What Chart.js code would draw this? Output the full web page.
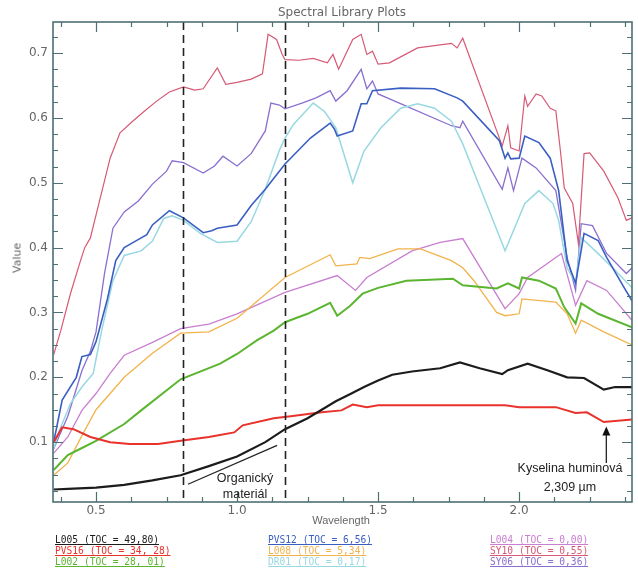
<!DOCTYPE html>
<html>
<head>
<meta charset="utf-8">
<title>Spectral Library Plots</title>
<script src="https://cdn.jsdelivr.net/npm/chart.js@4.4.1/dist/chart.umd.min.js"></script>
<style>
  html, body { margin: 0; padding: 0; background: #ffffff; }
  #wrap { position: relative; width: 638px; height: 572px; overflow: hidden; background: #ffffff; }
  #c { position: absolute; left: 0; top: 0; }
  .lbl { position: absolute; white-space: nowrap; transform: translate(-50%, -50%); }
  .axis-text { font-family: "DejaVu Sans", sans-serif; color: #666; }
  .note { font-family: "Liberation Sans", Arial, sans-serif; font-size: 12.5px; color: #222; }
  .legend-col { position: absolute; top: 534px; font-family: "DejaVu Sans Mono", monospace; font-size: 9.6px; line-height: 11px; }
  .legend-col div { text-decoration: underline; text-underline-offset: 1px; }
</style>
</head>
<body>
<div id="wrap">
  <canvas id="c" width="638" height="572"></canvas>
  <div class="lbl axis-text" style="left:342px; top:12px; font-size:12px;">Spectral Library Plots</div>
  <div class="lbl axis-text" style="left:17px; top:258px; font-size:11px; transform: translate(-50%, -50%) rotate(-90deg);">Value</div>
  <div class="lbl axis-text" style="left:341px; top:520px; font-size:11px; font-family: 'Liberation Sans', Arial, sans-serif;">Wavelength</div>
  <div class="lbl note" style="left:245px; top:478px;">Organický</div>
  <div class="lbl note" style="left:245px; top:494px;">materiál</div>
  <div class="lbl note" style="left:570px; top:468px;">Kyselina huminová</div>
  <div class="lbl note" style="left:570px; top:487px;">2,309 µm</div>
  <div id="legend"></div>
</div>
<script>
// Sample names, TOC contents and line colours (legend order)
const sampleNames = ['L005', 'PVS16', 'L002', 'PVS12', 'L008', 'DR01', 'L004', 'SY10', 'SY06'];
const tocLabels = ['49,80', '34, 28', '28, 01', '6,56', '5,34', '0,17', '0,00', '0,55', '0,36'];
const lineColors = ['#1c1c1c', '#e8322b', '#5cb531', '#3a5fc2', '#f2b24c', '#98d8e2', '#c87fd0', '#d65a76', '#8a6fd0'];
const lineWidths = [2.2, 2.0, 2.0, 1.6, 1.3, 1.5, 1.3, 1.2, 1.3];

// Reflectance spectra: wavelength (µm) and value
const wavelengthL005 = [0.35,0.4,0.5,0.6,0.7,0.8,0.9,1.0,1.1,1.17,1.25,1.3,1.35,1.4,1.45,1.5,1.55,1.62,1.72,1.79,1.86,1.94,1.96,2.03,2.1,2.17,2.23,2.3,2.34,2.4];
const valueL005 = [0.027,0.028,0.03,0.034,0.041,0.049,0.063,0.078,0.1,0.12,0.137,0.15,0.163,0.174,0.185,0.195,0.204,0.209,0.214,0.223,0.214,0.205,0.211,0.221,0.211,0.2,0.199,0.181,0.185,0.185];

const wavelengthPVS16 = [0.35,0.38,0.42,0.48,0.55,0.62,0.72,0.8,0.9,0.99,1.02,1.13,1.19,1.3,1.37,1.41,1.46,1.5,1.7,1.95,2.0,2.13,2.2,2.24,2.3,2.4];
const valuePVS16 = [0.1,0.123,0.12,0.108,0.1,0.097,0.097,0.102,0.108,0.115,0.126,0.137,0.14,0.146,0.149,0.158,0.154,0.157,0.157,0.157,0.154,0.154,0.145,0.146,0.131,0.135];

const wavelengthL002 = [0.35,0.4,0.45,0.5,0.6,0.66,0.8,0.94,1.0,1.07,1.13,1.17,1.2,1.25,1.33,1.355,1.4,1.445,1.5,1.6,1.765,1.8,1.92,1.96,2.0,2.01,2.07,2.13,2.16,2.2,2.22,2.28,2.4];
const valueL002 = [0.057,0.08,0.091,0.102,0.128,0.149,0.197,0.221,0.236,0.257,0.272,0.285,0.29,0.298,0.315,0.295,0.31,0.329,0.338,0.349,0.352,0.342,0.337,0.345,0.337,0.354,0.349,0.337,0.308,0.283,0.314,0.298,0.277];

const wavelengthPVS12 = [0.35,0.38,0.43,0.45,0.48,0.5,0.54,0.57,0.6,0.64,0.68,0.7,0.76,0.81,0.88,0.91,0.93,1.0,1.05,1.1,1.17,1.26,1.33,1.345,1.355,1.41,1.44,1.46,1.48,1.58,1.7,1.78,1.8,1.93,1.95,1.96,1.97,2.0,2.02,2.07,2.11,2.14,2.17,2.2,2.23,2.28,2.31,2.37,2.4];
const valuePVS12 = [0.1,0.165,0.2,0.232,0.235,0.255,0.32,0.38,0.4,0.41,0.42,0.435,0.457,0.446,0.423,0.426,0.43,0.435,0.465,0.49,0.529,0.569,0.592,0.583,0.572,0.58,0.622,0.622,0.642,0.646,0.645,0.631,0.626,0.565,0.538,0.546,0.537,0.538,0.572,0.562,0.538,0.488,0.38,0.345,0.422,0.411,0.385,0.34,0.318];

const wavelengthL008 = [0.35,0.4,0.45,0.5,0.6,0.7,0.8,0.9,1.0,1.17,1.33,1.35,1.425,1.435,1.47,1.57,1.65,1.76,1.8,1.84,1.92,1.95,2.0,2.01,2.13,2.17,2.2,2.22,2.3,2.4];
const valueL008 = [0.049,0.068,0.11,0.15,0.2,0.237,0.268,0.27,0.291,0.354,0.389,0.372,0.375,0.385,0.383,0.398,0.398,0.38,0.369,0.349,0.3,0.295,0.298,0.321,0.316,0.298,0.268,0.288,0.27,0.25];

const wavelengthDR01 = [0.35,0.37,0.41,0.45,0.49,0.52,0.56,0.6,0.66,0.7,0.74,0.77,0.81,0.87,0.93,1.0,1.05,1.1,1.15,1.17,1.2,1.27,1.31,1.35,1.41,1.45,1.51,1.58,1.64,1.7,1.76,1.8,1.87,1.95,2.02,2.07,2.12,2.14,2.17,2.2,2.22,2.27,2.34,2.4];
const valueDR01 = [0.09,0.118,0.16,0.185,0.206,0.272,0.349,0.388,0.395,0.41,0.445,0.449,0.442,0.422,0.408,0.41,0.44,0.49,0.55,0.569,0.59,0.623,0.61,0.585,0.5,0.549,0.585,0.615,0.622,0.615,0.595,0.56,0.483,0.395,0.468,0.488,0.468,0.442,0.369,0.345,0.415,0.395,0.365,0.338];

const wavelengthL004 = [0.35,0.4,0.45,0.5,0.55,0.6,0.7,0.8,0.9,1.0,1.17,1.355,1.42,1.46,1.62,1.72,1.8,1.95,2.0,2.03,2.15,2.2,2.24,2.31,2.4];
const valueL004 = [0.083,0.108,0.149,0.175,0.206,0.234,0.254,0.275,0.282,0.298,0.331,0.357,0.334,0.354,0.395,0.408,0.414,0.306,0.329,0.354,0.391,0.311,0.349,0.334,0.288];

const wavelengthSY10 = [0.35,0.375,0.41,0.445,0.46,0.48,0.51,0.55,0.585,0.63,0.67,0.715,0.76,0.81,0.85,0.88,0.93,0.96,1.0,1.05,1.09,1.11,1.14,1.16,1.17,1.22,1.27,1.32,1.34,1.36,1.41,1.44,1.46,1.48,1.5,1.54,1.64,1.76,1.78,1.8,1.94,1.96,1.97,2.0,2.02,2.03,2.06,2.08,2.11,2.13,2.145,2.16,2.19,2.21,2.23,2.25,2.3,2.35,2.38,2.4];
const valueSY10 = [0.235,0.272,0.33,0.38,0.4,0.415,0.468,0.538,0.577,0.595,0.61,0.626,0.64,0.648,0.643,0.645,0.677,0.652,0.655,0.66,0.668,0.729,0.721,0.698,0.69,0.689,0.692,0.685,0.698,0.675,0.721,0.729,0.698,0.703,0.683,0.685,0.708,0.715,0.708,0.723,0.557,0.588,0.554,0.549,0.634,0.618,0.637,0.634,0.615,0.611,0.554,0.492,0.468,0.406,0.545,0.546,0.518,0.477,0.442,0.446];

const wavelengthSY06 = [0.35,0.4,0.45,0.48,0.5,0.53,0.56,0.6,0.65,0.7,0.75,0.77,0.81,0.88,0.92,0.95,1.0,1.05,1.1,1.12,1.15,1.17,1.23,1.28,1.33,1.35,1.39,1.44,1.46,1.48,1.5,1.76,1.79,1.8,1.94,1.96,1.98,2.01,2.06,2.13,2.17,2.2,2.22,2.26,2.31,2.38,2.4];
const valueSY06 = [0.09,0.14,0.21,0.24,0.27,0.36,0.43,0.455,0.472,0.498,0.518,0.534,0.531,0.515,0.526,0.541,0.526,0.545,0.58,0.623,0.62,0.614,0.623,0.631,0.642,0.626,0.642,0.675,0.645,0.657,0.637,0.588,0.585,0.595,0.49,0.523,0.488,0.538,0.523,0.488,0.385,0.334,0.437,0.434,0.391,0.36,0.369];

const spectraWavelengths = [wavelengthL005, wavelengthPVS16, wavelengthL002, wavelengthPVS12, wavelengthL008, wavelengthDR01, wavelengthL004, wavelengthSY10, wavelengthSY06];
const spectraValues = [valueL005, valuePVS16, valueL002, valuePVS12, valueL008, valueDR01, valueL004, valueSY10, valueSY06];

// Axis ticks
const xTickLabels = [0.5, 1.0, 1.5, 2.0];
const yTickLabels = [0.1, 0.2, 0.3, 0.4, 0.5, 0.6, 0.7];

// Organic-matter band edges (µm) and humic acid feature
const organicBand = [0.81, 1.17];
const organicPointer = [[0.826, 0.035], [1.142, 0.095]];
const humicWavelength = 2.309;
const humicArrow = [0.068, 0.124];

const axisColor = '#4e7075';

const datasets = sampleNames.map((name, i) => ({
  label: name + ' (TOC = ' + tocLabels[i] + ')',
  data: spectraWavelengths[i].map((w, k) => ({ x: w, y: spectraValues[i][k] })),
  borderColor: lineColors[i],
  borderWidth: lineWidths[i],
  pointRadius: 0,
  tension: 0,
  fill: false
}));

// Frame with inward ticks, dashed band edges and annotation strokes
const frameAndMarks = {
  id: 'frameAndMarks',
  afterDatasetsDraw(chart) {
    const { ctx, chartArea: a, scales: { x, y } } = chart;
    ctx.save();

    ctx.strokeStyle = '#222';
    ctx.lineWidth = 1.6;
    ctx.setLineDash([8, 5]);
    organicBand.forEach(w => {
      const px = Math.round(x.getPixelForValue(w)) + 0.5;
      ctx.beginPath();
      ctx.moveTo(px, a.top);
      ctx.lineTo(px, a.bottom);
      ctx.stroke();
    });
    ctx.setLineDash([]);

    ctx.lineWidth = 1.2;
    ctx.beginPath();
    ctx.moveTo(x.getPixelForValue(organicPointer[0][0]), y.getPixelForValue(organicPointer[0][1]));
    ctx.lineTo(x.getPixelForValue(organicPointer[1][0]), y.getPixelForValue(organicPointer[1][1]));
    ctx.stroke();

    const ax = x.getPixelForValue(humicWavelength);
    const ay0 = y.getPixelForValue(humicArrow[0]);
    const ay1 = y.getPixelForValue(humicArrow[1]);
    ctx.lineWidth = 1.3;
    ctx.beginPath();
    ctx.moveTo(ax, ay0);
    ctx.lineTo(ax, ay1 + 6);
    ctx.stroke();
    ctx.fillStyle = '#111';
    ctx.beginPath();
    ctx.moveTo(ax, ay1);
    ctx.lineTo(ax - 4, ay1 + 9);
    ctx.lineTo(ax + 4, ay1 + 9);
    ctx.closePath();
    ctx.fill();

    ctx.strokeStyle = axisColor;
    ctx.lineWidth = 1.6;
    ctx.strokeRect(a.left, a.top, a.right - a.left, a.bottom - a.top);

    ctx.lineWidth = 1.2;
    const isMult = (v, s) => Math.abs(v / s - Math.round(v / s)) < 1e-6;
    ctx.beginPath();
    for (let v = Math.ceil(y.min / 0.025) * 0.025; v <= y.max + 1e-9; v += 0.025) {
      const py = Math.round(y.getPixelForValue(v)) + 0.5;
      const len = isMult(v, 0.1) ? 10 : 5;
      ctx.moveTo(a.left, py); ctx.lineTo(a.left + len, py);
      ctx.moveTo(a.right, py); ctx.lineTo(a.right - len, py);
    }
    for (let w = Math.ceil(x.min / 0.125) * 0.125; w <= x.max + 1e-9; w += 0.125) {
      const px = Math.round(x.getPixelForValue(w)) + 0.5;
      const len = isMult(w, 0.5) ? 10 : 5;
      ctx.moveTo(px, a.bottom); ctx.lineTo(px, a.bottom - len);
      ctx.moveTo(px, a.top); ctx.lineTo(px, a.top + len);
    }
    ctx.stroke();
    ctx.restore();
  }
};

new Chart(document.getElementById('c'), {
  type: 'line',
  data: { datasets },
  options: {
    responsive: false,
    animation: false,
    devicePixelRatio: 1,
    layout: { padding: { left: 0, right: 6, top: 22, bottom: 40 } },
    plugins: { legend: { display: false }, tooltip: { enabled: false }, title: { display: false } },
    scales: {
      x: {
        type: 'linear',
        min: 0.3475,
        max: 2.4,
        grid: { display: false, drawTicks: false, tickLength: 0 },
        border: { display: false },
        ticks: {
          font: { family: 'DejaVu Sans', size: 12 },
          color: '#666',
          padding: 2,
          maxRotation: 0,
          autoSkip: false,
          callback: v => Number(v).toFixed(1)
        },
        afterBuildTicks: s => { s.ticks = xTickLabels.map(v => ({ value: v })); },
        afterFit: s => { s.height = 30; }
      },
      y: {
        type: 'linear',
        min: 0.0077,
        max: 0.748,
        grid: { display: false, drawTicks: false, tickLength: 0 },
        border: { display: false },
        ticks: {
          font: { family: 'DejaVu Sans', size: 12 },
          color: '#666',
          padding: 5,
          autoSkip: false,
          callback: v => Number(v).toFixed(1)
        },
        afterBuildTicks: s => { s.ticks = yTickLabels.map(v => ({ value: v })); },
        afterFit: s => { s.width = 53; }
      }
    }
  },
  plugins: [frameAndMarks]
});

// Legend: three columns of underlined sample labels
const legendLefts = [55, 268, 490];
const legendEl = document.getElementById('legend');
legendLefts.forEach((left, col) => {
  const colEl = document.createElement('div');
  colEl.className = 'legend-col';
  colEl.style.left = left + 'px';
  for (let r = 0; r < 3; r++) {
    const i = col * 3 + r;
    const item = document.createElement('div');
    item.textContent = sampleNames[i] + ' (TOC = ' + tocLabels[i] + ')';
    item.style.color = lineColors[i];
    item.style.textDecorationColor = lineColors[i];
    colEl.appendChild(item);
  }
  legendEl.appendChild(colEl);
});
</script>
</body>
</html>
